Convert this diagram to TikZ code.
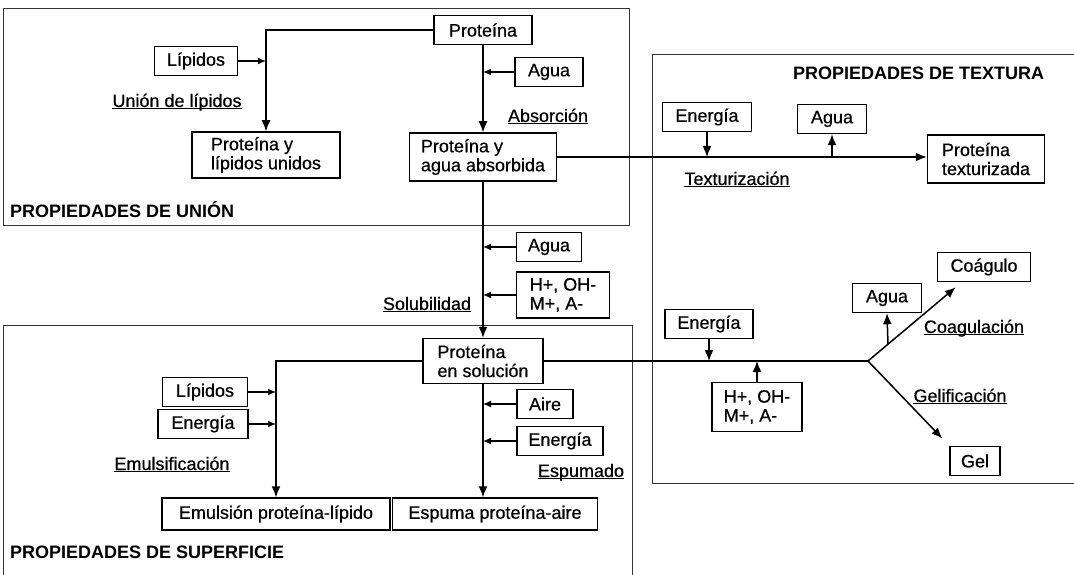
\documentclass[tikz,border=0pt]{standalone}
\usepackage{fontspec}
\setmainfont{Liberation Sans}
\newfontfamily\escaneo{Liberation Sans}[FakeBold=0.5]
\usetikzlibrary{arrows.meta}

\newcommand{\subrayado}[1]{\underline{\smash{#1}}}

\tikzset{
  caja/.style={draw, line width=1.5pt, inner xsep=6pt, inner ysep=3pt,
    minimum height=29pt, align=left, font=\escaneo\fontsize{18}{19}\selectfont},
  etiq/.style={inner sep=0pt, text height=13pt, text depth=3pt,
    font=\escaneo\fontsize{18}{19}\selectfont},
  titulo/.style={inner sep=0pt, anchor=west, font=\fontsize{18}{19}\selectfont\bfseries},
  seccion/.style={line width=1pt, black!80},
  linea/.style={line width=1.5pt},
  flecha/.style={linea, -{Latex[length=11pt,width=9pt]}},
  entrada/.style={linea, -{Latex[length=8pt,width=7pt]}},
}

\begin{document}
\begin{tikzpicture}[x=1pt, y=-1pt]
	\useasboundingbox (0,0) rectangle (1074,575);
	% marcos de las tres familias de propiedades
	\draw[seccion] (3,9) rectangle (629,225);
	\draw[seccion] (1080,55) -- (652,55) -- (652,483) -- (1080,483);
	\draw[seccion] (3,580) -- (3,325) -- (632,325) -- (632,580);

	\node[titulo] (tunion) at (10,210) {PROPIEDADES DE UNIÓN};
	\node[titulo] (ttextura) at (793,73) {PROPIEDADES DE TEXTURA};
	\node[titulo] (tsuperficie) at (10,552) {PROPIEDADES DE SUPERFICIE};

	% union: lipidos y agua
	\node[caja, minimum width=98pt] (prot) at (483,30) {Proteína};
	\node[caja, minimum width=83pt] (lip1) at (196,61) {Lípidos};
	\node[caja, minimum width=68pt] (agua1) at (549,72) {Agua};
	\node[caja, minimum width=148pt, minimum height=46pt] (plu) at (266,155) {Proteína y\\lípidos unidos};
	\node[caja, minimum width=147pt, minimum height=48pt] (paa) at (483,157) {Proteína y\\agua absorbida};
	\node[etiq] (lunion) at (177,102) {\subrayado{Unión de lípidos}};
	\node[etiq] (labs) at (548,117) {\subrayado{Absorción}};

	\draw[flecha] (prot.west) -| (plu.north);
	\draw[entrada] (lip1.east) -- (lip1.east -| plu.north);
	\draw[flecha] (prot.south) -- (prot.south |- paa.north);
	\draw[entrada] (agua1.west) -- (agua1.west -| prot.south);

	% solubilidad
	\node[caja, minimum width=65pt] (agua2) at (549,247) {Agua};
	\node[caja, minimum width=93pt, minimum height=46pt] (ion1) at (563,295) {H+, OH-\\M+, A-};
	\node[etiq] (lsol) at (427,305) {\subrayado{Solubilidad}};
	\node[caja, minimum width=120pt, minimum height=45pt] (pes) at (483,361) {Proteína\\en solución};

	\draw[flecha] (paa.south) -- (paa.south |- pes.north);
	\draw[entrada] (agua2.west) -- (agua2.west -| paa.south);
	\draw[entrada] (ion1.west) -- (ion1.west -| paa.south);

	% superficie: emulsion y espuma
	\node[caja, minimum width=85pt] (lip2) at (205,392) {Lípidos};
	\node[caja, minimum width=90pt] (ener1) at (203,424) {Energía};
	\node[caja, minimum width=56pt] (aire) at (545,404) {Aire};
	\node[caja, minimum width=86pt] (ener2) at (560,441) {Energía};
	\node[etiq] (lemul) at (172,465) {\subrayado{Emulsificación}};
	\node[etiq] (lesp) at (581,472) {\subrayado{Espumado}};
	\node[caja, minimum width=228pt, minimum height=32pt] (emul) at (276,514) {Emulsión proteína-lípido};
	\node[caja, minimum width=205pt, minimum height=32pt] (esp) at (495,514) {Espuma proteína-aire};

	\draw[flecha] (pes.west) -| (emul.north);
	\draw[entrada] (lip2.east) -- (lip2.east -| emul.north);
	\draw[entrada] (ener1.east) -- (ener1.east -| emul.north);
	\draw[flecha] (pes.south) -- (pes.south |- esp.north);
	\draw[entrada] (aire.west) -- (aire.west -| pes.south);
	\draw[entrada] (ener2.west) -- (ener2.west -| pes.south);

	% textura
	\node[caja, minimum width=89pt] (ener3) at (707,117) {Energía};
	\node[caja, minimum width=69pt] (agua3) at (832,119) {Agua};
	\node[caja, minimum width=117pt, minimum height=48pt] (ptex) at (986,159) {Proteína\\texturizada};
	\node[etiq] (ltex) at (737,180) {\subrayado{Texturización}};

	\draw[flecha] (paa.east) -- (paa.east -| ptex.west);
	\draw[flecha] (ener3.south) -- (ener3.south |- paa.east);
	\draw[flecha] (agua3.south |- paa.east) -- (agua3.south);

	% coagulacion y gelificacion
	\node[caja, minimum width=88pt] (ener4) at (709,324) {Energía};
	\node[caja, minimum width=90pt, minimum height=49pt] (ion2) at (757,407) {H+, OH-\\M+, A-};
	\node[caja, minimum width=69pt] (agua4) at (887,298) {Agua};
	\node[caja, minimum width=93pt] (coag) at (984,267) {Coágulo};
	\node[caja, minimum width=50pt] (gel) at (975,461) {Gel};
	\node[etiq] (lcoag) at (974,328) {\subrayado{Coagulación}};
	\node[etiq] (lgel) at (960,397) {\subrayado{Gelificación}};

	\coordinate (rama) at (868,361);
	\coordinate (pie) at (888,344);
	\draw[linea] (pes.east) -- (rama);
	\draw[flecha] (rama) -- ([xshift=19pt,yshift=-5pt]coag.south west);
	\draw[flecha, shorten >=10pt] (rama) -- (gel.north west);
	\draw[flecha] (ener4.south) -- (ener4.south |- rama);
	\draw[flecha] (ion2.north) -- (ion2.north |- rama);
	\draw[flecha] (pie) -- (agua4.south);
\end{tikzpicture}
\end{document}
